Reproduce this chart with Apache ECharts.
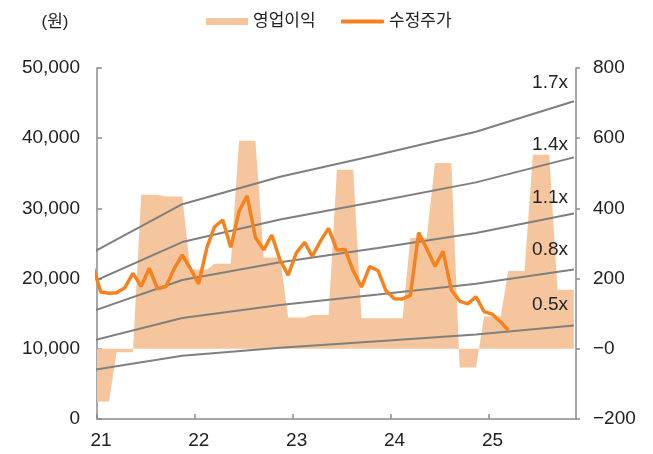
<!DOCTYPE html>
<html>
<head>
<meta charset="utf-8">
<script src="https://cdn.jsdelivr.net/npm/echarts@6/dist/echarts.min.js"></script>
<style>
	html, body { margin: 0; padding: 0; background: #fff; }
	#chart { width: 653px; height: 454px; }
</style>
</head>
<body>
<div id="chart"></div>
<script>
	// 월별 날짜 (2020.12 ~ 2025.11, 월 중순 기준)
	var months = [];
	for (var y = 2020; y <= 2025; y++) {
		for (var m = 1; m <= 12; m++) {
			if ((y === 2020 && m < 12) || (y === 2025 && m > 11)) continue;
			months.push(y + '-' + (m < 10 ? '0' + m : m) + '-15');
		}
	}

	// 영업이익 (우축, 분기값을 월별로 표시)
	var opProfit = [
		-150, -150, -150,  -10, -10, -10,  439, 439, 439,  434, 434, 434,
		225, 225, 225,  242, 242, 242,  593, 593, 593,  260, 260, 260,
		89, 89, 89,  96, 96, 96,  510, 510, 510,  87, 87, 87,
		87, 87, 87,  316, 316, 316,  529, 529, 529,  -53, -53, -53,
		92, 92, 92,  222, 222, 222,  553, 553, 553,  168, 168, 168
	];

	// 수정주가 (좌축, 원)
	var price = [
		22000, 18100, 17900, 18000, 18700, 20750, 18900, 21470, 18550, 18850, 21350, 23360,
		21470, 19250, 24400, 27350, 28350, 24450, 29600, 31800, 25850, 24100, 26210, 22650,
		20500, 23700, 25150, 23170, 25380, 27150, 24070, 24150, 21100, 18800, 21700, 21150,
		18300, 17120, 17100, 17600, 26550, 24250, 21750, 23890, 18380, 16800, 16400, 17420,
		15300, 14930, 13820, 12680, null, null, null, null, null, null, null, null
	];

	// BPS (밴드 기준값, 꺾이는 지점만)
	var bps = [
		13950, null, null, null, null, null, null, null, null, null, null, 18000,
		null, null, null, null, null, null, null, null, null, null, null, 20300,
		null, null, null, null, null, null, null, null, null, null, null, 22150,
		null, null, null, null, null, null, null, null, null, null, null, 24075,
		null, null, null, null, null, null, null, null, null, null, null, 26620
	];

	var multiples = [0.5, 0.8, 1.1, 1.4, 1.7];
	var multipleLabels = ['0.5x', '0.8x', '1.1x', '1.4x', '1.7x'];

	var font = '"Liberation Sans", "Noto Sans CJK KR", sans-serif';
	var textColor = '#222';
	var axisColor = '#8a8a8a';
	// 배수 라벨 위치 (오른쪽 정렬 기준)
	var bandLabelY = [305, 249.5, 198, 145, 83];

	function pairs(arr) {
		return months.map(function (d, i) { return [d, arr[i]]; });
	}

	var series = [{
		name: '영업이익',
		type: 'line',
		yAxisIndex: 1,
		data: pairs(opProfit),
		symbol: 'none',
		lineStyle: { width: 0 },
		itemStyle: { color: '#F5C69D' },
		areaStyle: { color: '#F5C69D', opacity: 1, origin: 0 },
		z: 1,
		silent: true
	}];

	multiples.forEach(function (mul) {
		series.push({
			name: mul + 'x',
			type: 'line',
			data: pairs(bps.map(function (v) { return v == null ? null : v * mul; })),
			connectNulls: true,
			symbol: 'none',
			lineStyle: { color: '#7f7f7f', width: 2 },
			z: 2,
			silent: true
		});
	});

	series.push({
		name: '수정주가',
		type: 'line',
		data: pairs(price),
		symbol: 'none',
		itemStyle: { color: '#F5821F' },
		lineStyle: { color: '#F5821F', width: 3.5 },
		z: 3,
		silent: true
	});

	var graphics = [{
		type: 'text', x: 55, y: 22, z: 100,
		style: { text: '(원)', align: 'center', verticalAlign: 'middle', fontSize: 17, fontFamily: font, fill: textColor }
	}];
	multipleLabels.forEach(function (t, i) {
		graphics.push({
			type: 'text', x: 568, y: bandLabelY[i], z: 100,
			style: { text: t, align: 'right', verticalAlign: 'middle', fontSize: 19, fontFamily: font, fill: textColor }
		});
	});

	var chart = echarts.init(document.getElementById('chart'));
	chart.setOption({
		animation: false,
		textStyle: { fontFamily: font },
		grid: { left: 97, right: 77, top: 68, bottom: 35, containLabel: false },
		legend: [{
			data: ['영업이익'],
			left: 206, top: 13, padding: 0,
			icon: 'rect', itemWidth: 42, itemHeight: 7,
			textStyle: { fontSize: 17, color: textColor }
		}, {
			data: ['수정주가'],
			left: 341, top: 13, padding: 0,
			icon: 'roundRect', itemWidth: 43, itemHeight: 4,
			textStyle: { fontSize: 17, color: textColor }
		}],
		xAxis: {
			type: 'time',
			min: '2021-01-01',
			max: '2025-11-23',
			minInterval: 365 * 864e5,
			maxInterval: 366 * 864e5,
			axisLine: { onZero: false, lineStyle: { color: axisColor, width: 1.5 } },
			axisTick: { inside: true, length: 5, lineStyle: { color: axisColor, width: 1.5 } },
			splitLine: { show: false },
			axisLabel: {
				fontSize: 19, color: textColor, margin: 12, padding: [0, 0, 0, 8],
				formatter: function (v) {
					var d = new Date(v);
					return (d.getMonth() === 0 && d.getDate() === 1) ? String(d.getFullYear()).slice(2) : '';
				}
			}
		},
		yAxis: [{
			type: 'value', position: 'left',
			min: 0, max: 50000, interval: 10000,
			axisLine: { show: true, lineStyle: { color: axisColor, width: 1.5 } },
			axisTick: { show: true, inside: true, length: 5, lineStyle: { color: axisColor, width: 1.5 } },
			splitLine: { show: false },
			axisLabel: {
				fontSize: 19, color: textColor, margin: 17,
				formatter: function (v) { return v.toLocaleString('en-US'); }
			}
		}, {
			type: 'value', position: 'right',
			min: -200, max: 800, interval: 200,
			axisLine: { show: true, lineStyle: { color: axisColor, width: 1.5 } },
			axisTick: { show: true, inside: false, length: 4, lineStyle: { color: axisColor, width: 1.5 } },
			splitLine: { show: false },
			axisLabel: {
				fontSize: 19, color: textColor, margin: 17,
				formatter: function (v) {
					if (v === 0) return '\u22120';
					return v < 0 ? '\u2212' + Math.abs(v) : String(v);
				}
			}
		}],
		graphic: graphics,
		series: series
	});
</script>
</body>
</html>
